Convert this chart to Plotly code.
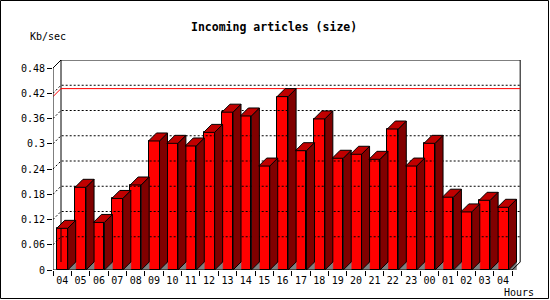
import plotly.graph_objects as go

# ---- data ----
hours = ["04", "05", "06", "07", "08", "09", "10", "11", "12", "13", "14", "15", "16",
         "17", "18", "19", "20", "21", "22", "23", "00", "01", "02", "03", "04"]
kbps = [0.099, 0.1965, 0.113, 0.170, 0.202, 0.3066, 0.301, 0.2947, 0.327, 0.375, 0.366,
        0.247, 0.412, 0.2835, 0.359, 0.2655, 0.275, 0.263, 0.335, 0.247, 0.301, 0.173,
        0.138, 0.1656, 0.149]
y_tickvals = [0, 0.06, 0.12, 0.18, 0.24, 0.30, 0.36, 0.42, 0.48]
y_ticktext = ["0", "0.06", "0.12", "0.18", "0.24", "0.3", "0.36", "0.42", "0.48"]
title_text = "Incoming articles (size)"
y_label = "Kb/sec"
x_label = "Hours"

# ---- geometry / style ----
W, H = 550, 300
L, R, T, B = 53, 521, 60, 270          # plot area in pixels
n = len(hours)
xmin, xmax = -0.5, 24.98
ymin, ymax = 0.0, 0.499
DX = (R - L) / (xmax - xmin) * 0 + 8 / ((R - L) / (xmax - xmin))   # depth in x units
DY = 8 / ((B - T) / (ymax - ymin))                                  # depth in y units
BW = 0.6
ytop = 0.48
FRONT = "#ff0000"
SIDE = "#800000"
TOP = "#c00000"
GREY = "#808080"
FONT = "DejaVu Sans Mono"

def px(p):
    return (p - L) / (R - L)

def py(q):
    return (B - q) / (B - T)

fig = go.Figure()
xs = list(range(n))
xl_back = xmin + DX
xr_front = n - 0.5
xr_back = xr_front + DX

# back frame (left + top + right)
fig.add_trace(go.Scatter(
    x=[xl_back, xl_back, xr_back, xr_back],
    y=[DY, ytop + DY, ytop + DY, DY],
    mode="lines", line=dict(color="black", width=1), hoverinfo="skip"))

# dotted grid lines on the back plane
gx, gy = [], []
for v in y_tickvals[1:-1]:
    gx += [xmin, xl_back, xr_back, None]
    gy += [v, v + DY, v + DY, None]
fig.add_trace(go.Scatter(x=gx, y=gy, mode="lines",
                         line=dict(color="black", width=1, dash="2px,2px"),
                         hoverinfo="skip"))

# max line
m = max(kbps)
fig.add_trace(go.Scatter(x=[xmin, xl_back, xr_back], y=[m, m + DY, m + DY],
                         mode="lines", line=dict(color="red", width=1),
                         hoverinfo="skip"))

# floor shadows, side and top faces
sx, sy, tx, ty, fx, fy = [], [], [], [], [], []
for i, v in zip(xs, kbps):
    a, b = i - BW / 2, i + BW / 2
    fx += [b, b + DX, b + DX, b, None]
    fy += [0, 0, DY, 0, None]
    sx += [b, b, b + DX, b + DX, b, None]
    sy += [0, v, v + DY, DY, 0, None]
    tx += [a, b, b + DX, a + DX, a, None]
    ty += [v, v, v + DY, v + DY, v, None]
fig.add_trace(go.Scatter(x=fx, y=fy, mode="lines", fill="toself", fillcolor=GREY,
                         line=dict(color=GREY, width=0.5), hoverinfo="skip"))
fig.add_trace(go.Scatter(x=sx, y=sy, mode="lines", fill="toself", fillcolor=SIDE,
                         line=dict(color="black", width=1), hoverinfo="skip"))
fig.add_trace(go.Scatter(x=tx, y=ty, mode="lines", fill="toself", fillcolor=TOP,
                         line=dict(color="black", width=1), hoverinfo="skip"))

# front faces
fig.add_trace(go.Bar(x=xs, y=kbps, width=BW, marker=dict(color=FRONT,
                     line=dict(color="black", width=1)), hoverinfo="skip"))

# front frame
fig.add_trace(go.Scatter(
    x=[xl_back, xmin, xmin, xr_front, xr_back],
    y=[ytop + DY, ytop, 0, 0, DY],
    mode="lines", line=dict(color="black", width=1), hoverinfo="skip"))

fig.update_layout(
    width=W, height=H,
    margin=dict(l=L, r=W - R, t=T, b=H - B, pad=0),
    paper_bgcolor="white", plot_bgcolor="white",
    showlegend=False, bargap=0,
    font=dict(family=FONT, size=10, color="black"),
    xaxis=dict(range=[xmin, xmax], showgrid=False, zeroline=False, showline=False,
               tickmode="array", tickvals=xs, ticktext=hours, ticks="",
               ticklabelstandoff=3,
               minor=dict(tickmode="array", tickvals=[i - 0.5 for i in range(n + 1)],
                          ticks="outside", ticklen=5, tickcolor="black", tickwidth=1,
                          showgrid=False),
               tickfont=dict(family=FONT, size=10, color="black"), fixedrange=True),
    yaxis=dict(range=[ymin, ymax], showgrid=False, zeroline=False, showline=False,
               tickmode="array", tickvals=y_tickvals, ticktext=y_ticktext,
               ticks="outside", ticklen=5, tickcolor="black", tickwidth=1,
               tickfont=dict(family=FONT, size=10, color="black"), fixedrange=True),
    annotations=[
        dict(text="<b>" + title_text + "</b>", xref="paper", yref="paper",
             x=px(274), y=py(27), xanchor="center", yanchor="middle", showarrow=False,
             font=dict(family=FONT, size=11.5, color="black")),
        dict(text=y_label, xref="paper", yref="paper", x=px(47.5), y=py(37),
             xanchor="center", yanchor="middle", showarrow=False,
             font=dict(family=FONT, size=10, color="black")),
        dict(text=x_label, xref="paper", yref="paper", x=px(519), y=py(292),
             xanchor="center", yanchor="middle", showarrow=False,
             font=dict(family=FONT, size=10, color="black")),
    ],
    shapes=[dict(type="rect", xref="paper", yref="paper",
                 x0=px(0.5), x1=px(548.5), y0=py(298.5), y1=py(0.5),
                 line=dict(color="black", width=1), fillcolor="rgba(0,0,0,0)")],
)

fig.write_html("out.html")
